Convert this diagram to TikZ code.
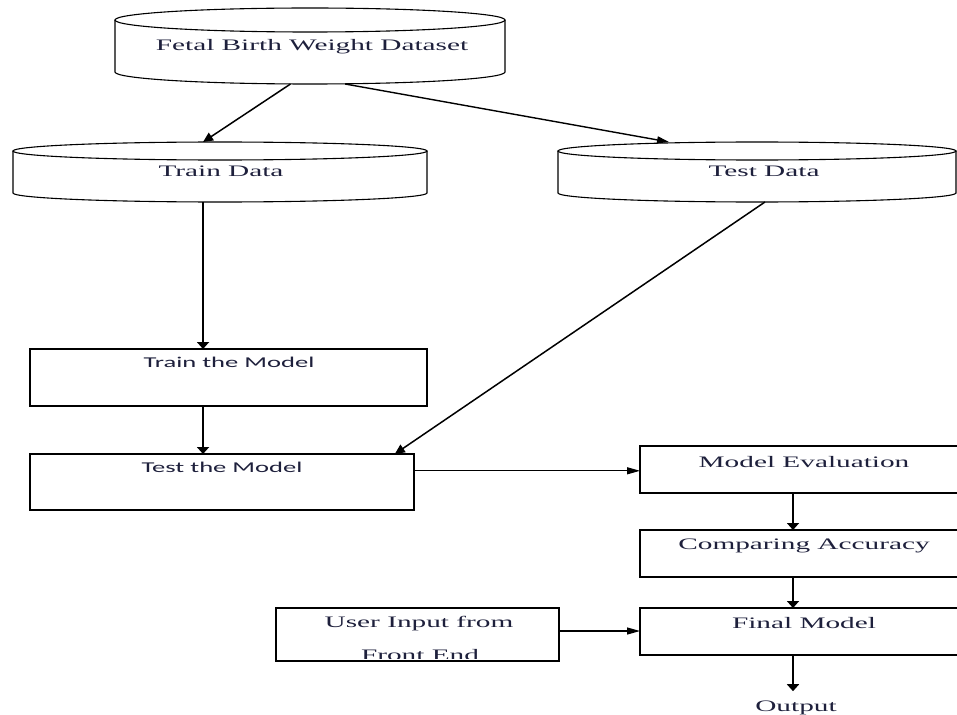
\documentclass[tikz,border=0pt]{standalone}
\usepackage{fontspec}
\usepackage{graphicx}
\setmainfont{Liberation Serif}
\newfontfamily\calib{Carlito}
\usetikzlibrary{arrows.meta,calc}
\definecolor{txtc}{RGB}{30,32,60}
\newcommand\sx[1]{\scalebox{1.83}[1]{#1}}
\newcommand\sxs[1]{\scalebox{1.77}[1]{#1}}
\begin{document}
\begin{tikzpicture}[x=1pt,y=-1pt,
  box/.style={draw=black, line width=1.1pt, rectangle, inner sep=0pt, outer sep=0pt},
  area/.style={draw=none, rectangle, inner sep=0pt, outer sep=0pt},
  lbl/.style={inner sep=0pt, anchor=base, text=txtc, font=\fontsize{16}{18}\selectfont},
  slbl/.style={inner sep=0pt, anchor=base, text=txtc, font=\calib\fontsize{15}{18}\selectfont},
  cyl/.style={draw=black, line width=1.1pt},
  vArr/.style={line width=1.8pt, -{Triangle[length=7pt,width=12pt]}},
  hArr/.style={line width=1.2pt, -{Triangle[length=13pt,width=7pt]}},
  dArr/.style={line width=1.5pt, -{Triangle[length=10pt,width=9pt]}},
  dhArr/.style={line width=1.4pt, -{Triangle[length=12pt,width=7pt]}},
]
\useasboundingbox (0,0) rectangle (957,714);
\clip (0,0) rectangle (957,714);
\fill[white] (0,0) rectangle (957,714);

% cylinder areas (named)
\node[area, minimum width=390pt, minimum height=76pt] (fetal) at (310,46) {};
\node[area, minimum width=414pt, minimum height=60pt] (traind) at (220,172) {};
\node[area, minimum width=398pt, minimum height=60pt] (testd) at (757,172) {};

% cylinders
\draw[cyl] (115,20) -- (115,72) arc[start angle=180, end angle=0, x radius=195, y radius=12] -- (505,20);
\draw[cyl] (310,20) ellipse[x radius=195, y radius=12];
\draw[cyl] (13,151) -- (13,193) arc[start angle=180, end angle=0, x radius=207, y radius=9] -- (427,151);
\draw[cyl] (220,151) ellipse[x radius=207, y radius=9];
\draw[cyl] (558,151) -- (558,193) arc[start angle=180, end angle=0, x radius=199, y radius=9] -- (956,151);
\draw[cyl] (757,151) ellipse[x radius=199, y radius=9];

% boxes
\node[box, minimum width=397pt, minimum height=57pt] (trainm) at (228.5,377.5) {};
\node[box, minimum width=384pt, minimum height=56pt] (testm) at (222,482) {};
\node[box, minimum width=330pt, minimum height=47pt] (eval) at (805,469.5) {};
\node[box, minimum width=330pt, minimum height=47pt] (comp) at (805,553.5) {};
\node[box, minimum width=330pt, minimum height=47pt] (final) at (805,631.5) {};
\node[box, minimum width=283pt, minimum height=53pt] (user) at (417.5,634.5) {};

% labels
\node[lbl] (tFetal) at (312,51) {\sx{Fetal Birth Weight Dataset}};
\node[lbl] (tTrainD) at (221,176) {\sx{Train Data}};
\node[lbl] (tTestD) at (764,176) {\sx{Test Data}};
\node[slbl] (tTrainM) at (229,367) {\sxs{Train the Model}};
\node[slbl] (tTestM) at (222,472) {\sxs{Test the Model}};
\node[lbl] (tEval) at (804,467) {\sx{Model Evaluation}};
\node[lbl] (tComp) at (804,549) {\sx{Comparing Accuracy}};
\node[lbl] (tFinal) at (804,628) {\sx{Final Model}};
\node[lbl] (tUser) at (419,627) {\sx{User Input from}};
\begin{scope}
  \clip (user.north west) rectangle ([yshift=2.5pt]user.south east);
  \node[lbl] (tFront) at (420,660) {\sx{Front End}};
\end{scope}
\node[lbl] (output) at (796,711) {\sx{Output}};

% connectors
\coordinate (xcol) at (793,0);
\coordinate (outtip) at ([yshift=9pt]output.north);
\draw[dArr] ($(fetal.south west)!0.45!(fetal.south east)$) -- ($(traind.north west)!0.459!(traind.north east)$);
\draw[dhArr] ($(fetal.south west)!0.59!(fetal.south east)$) -- ($(testd.north west)!0.279!(testd.north east)$);
\coordinate (tdb) at ($(traind.south west)!0.459!(traind.south east)$);
\draw[vArr] (tdb) -- (tdb |- trainm.north);
\draw[vArr] (tdb |- trainm.south) -- (tdb |- testm.north);
\draw[dArr] ($(testd.south west)!0.52!(testd.south east)$) -- ($(testm.north west)!0.95!(testm.north east)$);
\coordinate (tmr) at ($(testm.north east)!0.3!(testm.south east)$);
\draw[hArr] (tmr) -- (tmr -| eval.west);
\draw[vArr] (eval.south -| xcol) -- (comp.north -| xcol);
\draw[vArr] (comp.south -| xcol) -- (final.north -| xcol);
\coordinate (ur) at ($(user.north east)!0.434!(user.south east)$);
\draw[hArr] (ur) -- (ur -| final.west);
\draw[vArr] (final.south -| xcol) -- (outtip -| xcol);
\end{tikzpicture}
\end{document}
